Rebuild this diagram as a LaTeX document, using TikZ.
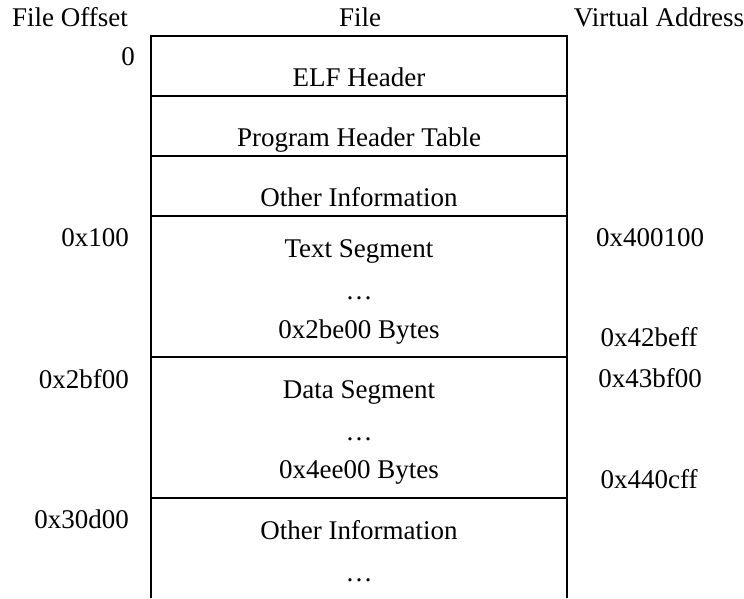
\documentclass[tikz,border=0pt]{standalone}
\usepackage{fontspec}
\setmainfont{Liberation Serif}
\begin{document}
\begin{tikzpicture}[x=1pt,y=-1pt,
  lbl/.style={anchor=base,inner sep=0pt,font=\fontsize{27}{31}\selectfont},
  off/.style={lbl,anchor=base east},
  box/.style={line width=1.3pt,black}]
\useasboundingbox (0,0) rectangle (744,598);
% outline
\coordinate (tl) at (151,36);
\coordinate (tr) at (567,36);
\coordinate (bl) at (151,598);
\coordinate (br) at (567,598);
\draw[box] (bl) -- (tl) -- (tr) -- (br);
\foreach \yy in {96,156,216,357,498}
  \draw[box] (151,\yy) -- (567,\yy);
% headings
\node[lbl] (h1) at (70,26) {File Offset};
\node[lbl] (h2) at (360,26) {File};
\node[lbl] (h3) at (659,26) {Virtual Address};
% contents
\node[lbl] (t1) at (359,86) {ELF Header};
\node[lbl] (t2) at (359,146) {Program Header Table};
\node[lbl] (t3) at (359,206) {Other Information};
\node[lbl] (t4) at (359,257) {Text Segment};
\node[lbl] (t5) at (359,299) {\dots};
\node[lbl] (t6) at (359,338) {0x2be00 Bytes};
\node[lbl] (t7) at (359,398) {Data Segment};
\node[lbl] (t8) at (359,440) {\dots};
\node[lbl] (t9) at (359,478) {0x4ee00 Bytes};
\node[lbl] (t10) at (359,539) {Other Information};
\node[lbl] (t11) at (359,581) {\dots};
% offsets
\node[off] (o1) at (135,65) {0};
\node[off] (o2) at (129,246) {0x100};
\node[off] (o3) at (129,388) {0x2bf00};
\node[off] (o4) at (129,528) {0x30d00};
% virtual addresses
\node[lbl] (v1) at (650,246) {0x400100};
\node[lbl] (v2) at (649,346) {0x42beff};
\node[lbl] (v3) at (650,387) {0x43bf00};
\node[lbl] (v4) at (649,488) {0x440cff};
\end{tikzpicture}
\end{document}
